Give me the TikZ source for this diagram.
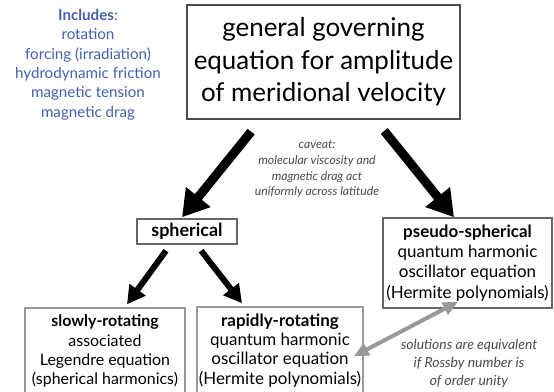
\documentclass[tikz,border=0pt]{standalone}
\usepackage{fontspec}
\setmainfont{Lato}
\usepackage{xcolor}
\usetikzlibrary{arrows.meta}
\definecolor{inclblue}{RGB}{66,96,172}
\definecolor{notegray}{RGB}{75,75,75}

\begin{document}
\begin{tikzpicture}[x=1bp,y=-1bp,
    box/.style={draw=black!60, line width=1.5bp, align=center, inner sep=0pt},
    bigarrow/.style={line width=9bp, -{Triangle[width=30bp,length=26bp]}},
    midarrow/.style={line width=6bp, -{Triangle[width=19bp,length=18bp]}},
    equivarrow/.style={draw=black!40, line width=4bp, {Triangle[width=13bp,length=15bp]}-{Triangle[width=13bp,length=15bp]}},
    note/.style={align=center, text=notegray, font=\itshape\fontsize{12.2}{16}\selectfont}]
    \useasboundingbox (0,0) rectangle (554,391);

    \node[box, draw=black!70, line width=2bp, minimum width=273bp, minimum height=114bp,
          font=\fontsize{26}{32.5}\selectfont] (top) at (323.5,62)
          {general governing\\equation for amplitude\\of meridional velocity};

    \node[align=center, text=inclblue, font=\fontsize{15.2}{19.4}\selectfont] (incl) at (88,64.5)
          {\textbf{Includes}:\\rotation\\forcing (irradiation)\\hydrodynamic friction\\magnetic tension\\magnetic drag};

    \node[note] (caveat) at (317,169)
          {caveat:\\molecular viscosity and\\magnetic drag act\\uniformly across latitude};

    \node[box, minimum width=100bp, minimum height=25bp,
          font=\bfseries\fontsize{18}{20}\selectfont] (sph) at (187,231.5) {spherical};

    \node[box, minimum width=169bp, minimum height=90bp,
          font=\fontsize{17}{20.3}\selectfont] (pseudo) at (467.5,263)
          {\textbf{pseudo-spherical}\\quantum harmonic\\oscillator equation\\(Hermite polynomials)};

    \node[box, draw=black!40, minimum width=160bp, minimum height=86bp,
          font=\fontsize{16}{19.2}\selectfont] (slow) at (105,351)
          {\textbf{slowly-rotating}\\associated\\Legendre equation\\(spherical harmonics)};

    \node[box, draw=black!40, minimum width=166bp, minimum height=87bp,
          font=\fontsize{17}{19.2}\selectfont] (rapid) at (280,350.5)
          {\textbf{rapidly-rotating}\\quantum harmonic\\oscillator equation\\(Hermite polynomials)};

    \node[note, font=\itshape\fontsize{14}{18.5}\selectfont] (equiv) at (469,363.5)
          {solutions are equivalent\\if Rossby number is\\of order unity};

    % main split
    \draw[bigarrow, shorten <=15bp] ([xshift=-63bp]top.south) -- ([xshift=-5bp,yshift=1bp]sph.north);
    \draw[bigarrow, shorten <=14bp] ([xshift=52bp]top.south) -- ([xshift=-13.5bp]pseudo.north);

    % spherical limits
    \draw[midarrow, shorten <=7.4bp] ([xshift=-16.7bp]sph.south) -- ([xshift=22bp,yshift=3bp]slow.north);
    \draw[midarrow, shorten <=7.5bp] ([xshift=9.5bp]sph.south) -- ([xshift=-38bp,yshift=3bp]rapid.north);

    \draw[equivarrow] ([xshift=-10bp,yshift=-50bp]rapid.north east) -- ([xshift=-9.5bp,yshift=7bp]pseudo.south);
\end{tikzpicture}
\end{document}
